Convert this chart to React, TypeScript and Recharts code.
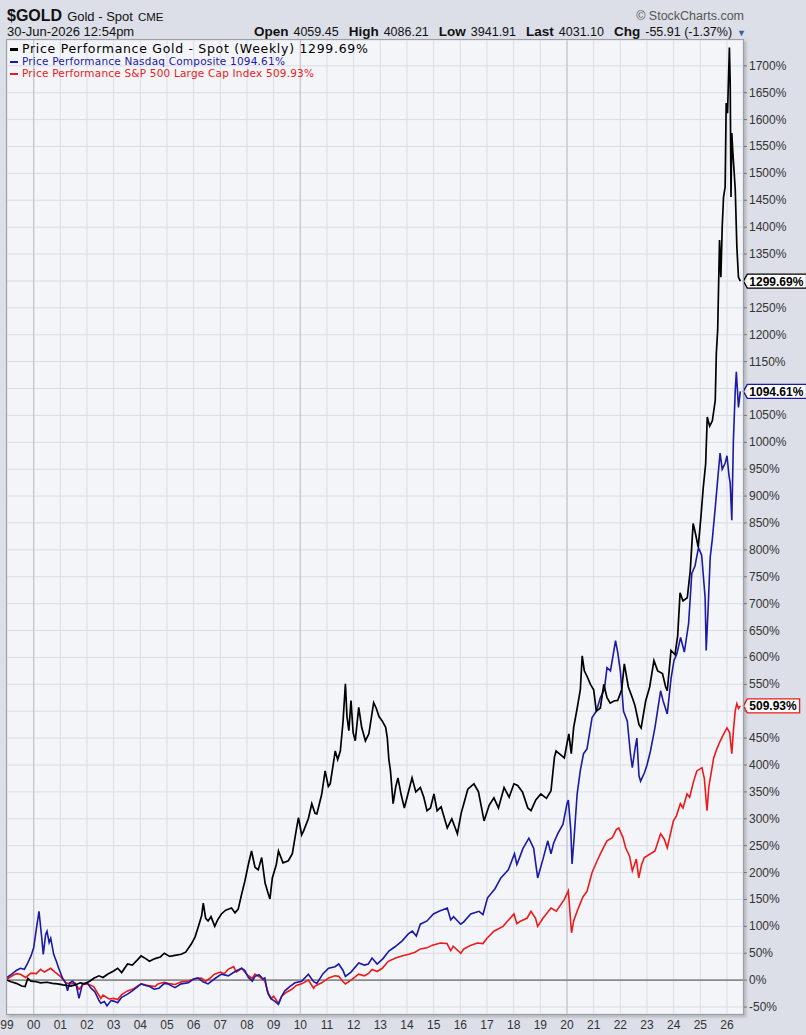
import React from "react";
import {
  LineChart, Line, XAxis, YAxis, CartesianGrid, ReferenceLine, ReferenceDot,
} from "recharts";

// [decimal year, % change since Jan 1999]
const GOLD: [number, number][] = [
  [1999.0, 0], [1999.15, -3], [1999.35, -6], [1999.55, -11], [1999.68, -12], [1999.78, 3], [1999.9, -2],
  [2000.1, -3], [2000.26, -5], [2000.5, -4], [2000.7, -6], [2000.9, -7], [2001.1, -9], [2001.4, -11],
  [2001.6, -8], [2001.75, -5], [2001.9, -7], [2002.1, -2], [2002.27, 4], [2002.45, 8], [2002.6, 5],
  [2002.77, 11], [2003.0, 17], [2003.15, 22], [2003.3, 14], [2003.52, 30], [2003.7, 28], [2003.9, 38],
  [2004.03, 45], [2004.2, 40], [2004.34, 35], [2004.55, 40], [2004.75, 43], [2004.9, 50], [2005.1, 44],
  [2005.3, 46], [2005.53, 48], [2005.7, 52], [2005.91, 67], [2006.05, 80], [2006.16, 97], [2006.3, 120],
  [2006.36, 143], [2006.45, 115], [2006.54, 110], [2006.65, 118], [2006.79, 100], [2006.9, 112],
  [2007.04, 123], [2007.2, 130], [2007.42, 134], [2007.55, 125], [2007.67, 132], [2007.8, 160],
  [2007.92, 184], [2008.05, 215], [2008.17, 240], [2008.3, 210], [2008.42, 205], [2008.55, 228],
  [2008.68, 180], [2008.8, 160], [2008.86, 151], [2008.95, 190], [2009.1, 215], [2009.18, 240],
  [2009.35, 218], [2009.55, 222], [2009.7, 235], [2009.85, 280], [2009.93, 302], [2010.05, 270],
  [2010.12, 277], [2010.3, 300], [2010.43, 328], [2010.55, 310], [2010.62, 309], [2010.8, 345],
  [2010.93, 389], [2011.05, 360], [2011.12, 365], [2011.31, 426], [2011.4, 410], [2011.5, 426],
  [2011.6, 480], [2011.69, 551], [2011.75, 490], [2011.82, 464], [2011.9, 520], [2011.98, 460],
  [2012.06, 445], [2012.19, 507], [2012.3, 470], [2012.44, 445], [2012.57, 458], [2012.75, 516],
  [2012.85, 505], [2012.95, 490], [2013.07, 482], [2013.2, 470], [2013.26, 451], [2013.32, 410],
  [2013.38, 389], [2013.48, 328], [2013.58, 360], [2013.66, 376], [2013.78, 345], [2013.9, 320],
  [2014.03, 345], [2014.19, 376], [2014.33, 350], [2014.5, 358], [2014.63, 340], [2014.75, 315],
  [2014.88, 320], [2015.01, 346], [2015.13, 315], [2015.28, 322], [2015.51, 283], [2015.68, 300],
  [2015.89, 272], [2016.03, 310], [2016.13, 328], [2016.28, 355], [2016.51, 365], [2016.68, 350],
  [2016.89, 296], [2017.08, 325], [2017.26, 339], [2017.43, 320], [2017.64, 358], [2017.83, 340],
  [2018.01, 365], [2018.15, 362], [2018.33, 350], [2018.53, 320], [2018.65, 315], [2018.83, 335],
  [2019.02, 346], [2019.23, 338], [2019.4, 352], [2019.53, 415], [2019.59, 426], [2019.73, 420],
  [2019.9, 413], [2020.0, 440], [2020.07, 458], [2020.16, 421], [2020.25, 470], [2020.38, 505],
  [2020.5, 540], [2020.57, 603], [2020.65, 575], [2020.75, 565], [2020.88, 550], [2021.0, 540],
  [2021.1, 500], [2021.25, 506], [2021.38, 550], [2021.5, 525], [2021.62, 515], [2021.76, 519],
  [2021.9, 520], [2022.05, 540], [2022.15, 588], [2022.3, 545], [2022.45, 525], [2022.55, 510],
  [2022.7, 475], [2022.78, 469], [2022.95, 519], [2023.1, 545], [2023.26, 594], [2023.4, 575],
  [2023.58, 570], [2023.7, 545], [2023.76, 538], [2023.9, 613], [2024.05, 605], [2024.15, 640],
  [2024.24, 720], [2024.35, 705], [2024.51, 711], [2024.62, 760], [2024.73, 849], [2024.82, 830],
  [2024.92, 805], [2025.02, 860], [2025.11, 916], [2025.2, 960], [2025.26, 1047], [2025.35, 1030],
  [2025.45, 1040], [2025.56, 1078], [2025.6, 1166], [2025.65, 1208], [2025.72, 1376], [2025.77, 1307],
  [2025.82, 1400], [2025.87, 1456], [2025.93, 1475], [2025.97, 1631], [2026.02, 1612], [2026.09, 1734],
  [2026.12, 1668], [2026.15, 1456], [2026.18, 1575], [2026.22, 1538], [2026.27, 1501], [2026.31, 1469],
  [2026.37, 1363], [2026.43, 1307], [2026.5, 1299.69],
];

const NASDAQ: [number, number][] = [
  [1999.0, 5], [1999.2, 12], [1999.35, 18], [1999.5, 22], [1999.65, 20], [1999.76, 30], [1999.9, 45],
  [2000.0, 60], [2000.1, 95], [2000.2, 128], [2000.3, 80], [2000.36, 48], [2000.45, 85], [2000.5, 91],
  [2000.58, 70], [2000.64, 78], [2000.75, 48], [2000.85, 35], [2000.94, 22], [2001.08, 4], [2001.2, -5],
  [2001.27, -20], [2001.35, -5], [2001.46, -2], [2001.6, -10], [2001.7, -34], [2001.83, -7], [2002.0, -5],
  [2002.15, -15], [2002.3, -22], [2002.45, -38], [2002.52, -43], [2002.65, -40], [2002.75, -48],
  [2002.9, -38], [2003.0, -39], [2003.15, -42], [2003.3, -32], [2003.52, -26], [2003.7, -20],
  [2003.9, -12], [2004.03, -7], [2004.2, -10], [2004.35, -12], [2004.52, -17], [2004.7, -15],
  [2004.9, -6], [2005.03, -7], [2005.3, -14], [2005.53, -7], [2005.8, -5], [2006.0, 2], [2006.16, 4],
  [2006.35, -3], [2006.54, -7], [2006.8, 3], [2007.04, 11], [2007.3, 8], [2007.55, 16], [2007.8, 22],
  [2007.92, 18], [2008.05, 5], [2008.2, -2], [2008.3, 7], [2008.45, 10], [2008.6, 2], [2008.67, 4],
  [2008.75, -18], [2008.8, -26], [2008.9, -35], [2009.04, -39], [2009.18, -45], [2009.3, -30],
  [2009.42, -20], [2009.6, -12], [2009.8, -5], [2010.05, -2], [2010.3, 11], [2010.5, -3], [2010.62, -6],
  [2010.85, 12], [2011.06, 22], [2011.3, 25], [2011.44, 30], [2011.6, 18], [2011.69, 7], [2011.9, 15],
  [2012.19, 32], [2012.4, 28], [2012.55, 30], [2012.69, 41], [2012.88, 30], [2013.1, 40], [2013.32, 54],
  [2013.55, 62], [2013.82, 73], [2014.05, 86], [2014.2, 91], [2014.35, 82], [2014.5, 104], [2014.75, 110],
  [2014.99, 123], [2015.2, 128], [2015.51, 134], [2015.64, 112], [2015.75, 118], [2016.01, 104],
  [2016.12, 108], [2016.39, 123], [2016.7, 128], [2016.85, 122], [2017.02, 153], [2017.3, 170],
  [2017.52, 190], [2017.8, 205], [2018.03, 235], [2018.12, 215], [2018.2, 225], [2018.35, 245],
  [2018.57, 264], [2018.75, 245], [2018.9, 190], [2019.1, 225], [2019.28, 259], [2019.4, 235],
  [2019.5, 255], [2019.65, 272], [2019.85, 290], [2020.0, 328], [2020.05, 335], [2020.14, 280],
  [2020.19, 216], [2020.26, 260], [2020.38, 346], [2020.5, 390], [2020.62, 421], [2020.75, 430],
  [2020.94, 488], [2021.1, 500], [2021.25, 525], [2021.4, 540], [2021.5, 581], [2021.63, 575],
  [2021.82, 631], [2021.9, 610], [2022.0, 575], [2022.12, 500], [2022.26, 482], [2022.38, 420],
  [2022.45, 395], [2022.55, 430], [2022.62, 450], [2022.7, 380], [2022.76, 370], [2022.9, 385],
  [2023.0, 400], [2023.13, 426], [2023.3, 470], [2023.51, 538], [2023.6, 520], [2023.76, 495],
  [2023.9, 560], [2024.01, 594], [2024.12, 607], [2024.26, 637], [2024.4, 610], [2024.56, 663],
  [2024.68, 756], [2024.8, 770], [2024.93, 804], [2025.05, 790], [2025.18, 711], [2025.22, 613],
  [2025.3, 700], [2025.37, 786], [2025.45, 820], [2025.56, 879], [2025.65, 930], [2025.74, 980],
  [2025.82, 950], [2025.93, 961], [2026.0, 975], [2026.07, 940], [2026.12, 924], [2026.18, 855],
  [2026.24, 1004], [2026.31, 1097], [2026.35, 1131], [2026.4, 1090], [2026.43, 1065], [2026.5, 1094.61],
];

const SP500: [number, number][] = [
  [1999.0, 2], [1999.2, 8], [1999.35, 12], [1999.5, 11], [1999.7, 5], [1999.9, 13], [2000.1, 12],
  [2000.26, 20], [2000.4, 15], [2000.64, 22], [2000.8, 15], [2001.0, 7], [2001.2, -5], [2001.4, -7],
  [2001.55, -5], [2001.7, -17], [2001.85, -8], [2002.02, -7], [2002.25, -12], [2002.52, -34],
  [2002.6, -28], [2002.83, -35], [2003.0, -34], [2003.15, -36], [2003.3, -27], [2003.52, -20],
  [2003.75, -16], [2004.03, -7], [2004.3, -10], [2004.55, -12], [2004.66, -7], [2004.9, -4],
  [2005.03, -6], [2005.3, -8], [2005.55, -3], [2005.79, -2], [2006.0, 2], [2006.29, 4], [2006.45, -2],
  [2006.6, 3], [2006.78, 11], [2007.0, 15], [2007.15, 12], [2007.29, 20], [2007.5, 25], [2007.6, 15],
  [2007.8, 22], [2008.0, 10], [2008.2, 3], [2008.3, 11], [2008.5, 5], [2008.67, -2], [2008.8, -25],
  [2008.92, -34], [2009.0, -30], [2009.18, -43], [2009.3, -30], [2009.5, -22], [2009.68, -17],
  [2009.85, -10], [2010.05, -7], [2010.3, 0], [2010.5, -15], [2010.55, -11], [2010.8, -5], [2011.06, 4],
  [2011.3, 8], [2011.44, 7], [2011.6, -3], [2011.69, -7], [2011.9, 0], [2012.19, 11], [2012.4, 8],
  [2012.55, 12], [2012.69, 20], [2012.88, 16], [2013.07, 22], [2013.3, 35], [2013.57, 41], [2013.8, 45],
  [2014.07, 48], [2014.3, 52], [2014.5, 58], [2014.75, 60], [2014.95, 65], [2015.26, 69], [2015.5, 68],
  [2015.64, 55], [2015.73, 63], [2016.02, 50], [2016.13, 58], [2016.4, 65], [2016.64, 69], [2016.85, 68],
  [2017.0, 78], [2017.26, 91], [2017.6, 100], [2018.01, 123], [2018.12, 105], [2018.27, 110],
  [2018.5, 115], [2018.65, 128], [2018.82, 115], [2018.9, 100], [2019.1, 115], [2019.4, 134],
  [2019.6, 128], [2019.9, 150], [2020.05, 166], [2020.17, 88], [2020.25, 110], [2020.38, 128],
  [2020.6, 155], [2020.75, 165], [2020.94, 200], [2021.13, 222], [2021.3, 240], [2021.5, 259],
  [2021.7, 265], [2021.85, 280], [2021.94, 283], [2022.1, 265], [2022.2, 246], [2022.35, 230],
  [2022.45, 203], [2022.6, 225], [2022.69, 190], [2022.8, 215], [2022.9, 228], [2023.13, 235],
  [2023.3, 240], [2023.51, 272], [2023.65, 262], [2023.76, 246], [2023.99, 296], [2024.1, 305],
  [2024.25, 328], [2024.35, 320], [2024.5, 346], [2024.6, 340], [2024.75, 370], [2024.87, 389],
  [2025.06, 395], [2025.15, 375], [2025.25, 315], [2025.32, 360], [2025.5, 413], [2025.62, 430],
  [2025.75, 445], [2025.85, 455], [2026.0, 469], [2026.1, 460], [2026.18, 421], [2026.25, 470],
  [2026.31, 501], [2026.37, 514], [2026.43, 505], [2026.5, 509.93],
];

const YEAR_TICKS = [
  1999, 2000, 2001, 2002, 2003, 2004, 2005, 2006, 2007, 2008, 2009, 2010, 2011, 2012,
  2013, 2014, 2015, 2016, 2017, 2018, 2019, 2020, 2021, 2022, 2023, 2024, 2025, 2026,
];
const DECADES = [2000, 2010, 2020];
const PCT_TICKS = [
  -50, 0, 50, 100, 150, 200, 250, 300, 350, 400, 450, 500, 550, 600, 650, 700, 750, 800, 850,
  900, 950, 1000, 1050, 1100, 1150, 1200, 1250, 1300, 1350, 1400, 1450, 1500, 1550, 1600, 1650, 1700,
];

const SERIES = [
  { name: "Price Performance Gold - Spot (Weekly)", color: "#000000", points: GOLD, big: true },
  { name: "Price Performance Nasdaq Composite", color: "#1a1aa6", points: NASDAQ, big: false },
  { name: "Price Performance S&P 500 Large Cap Index", color: "#ee1a1a", points: SP500, big: false },
];

const SANS = "'Liberation Sans', Arial, sans-serif";
const LEGEND_FONT = "'DejaVu Sans', Verdana, sans-serif";

const toRows = (pts: [number, number][]) => pts.map(([t, v]) => ({ t, v }));
const last = (pts: [number, number][]) => pts[pts.length - 1];
// the end-value tags cover the axis labels closest to them
const covered = (v: number) => SERIES.some((s) => Math.abs(last(s.points)[1] - v) < 14);

function EndTag(props: any) {
  const { cx, cy, color, text } = props;
  const tip = cx + 3;
  const left = tip + 4;
  const w = text.length * 6.9 + 4;
  return (
    <g>
      <path
        d={`M${tip},${cy} L${left},${cy - 7} H${left + w} V${cy + 7} H${left} Z`}
        fill="#ffffff"
        stroke={color}
        strokeWidth={1.3}
      />
      <text x={left + 2} y={cy + 4.5} fontSize={12} fontWeight={700} fontFamily={SANS} fill="#000">
        {text}
      </text>
    </g>
  );
}

function PctTick(props: any) {
  const { x, y, payload } = props;
  if (covered(payload.value)) return <g />;
  return (
    <text x={x + 1} y={y + 4} fontSize={12} fontFamily={SANS} fill="#333" textAnchor="start">
      {`${payload.value}%`}
    </text>
  );
}

export default function App() {
  return (
    <div style={{ position: "absolute", left: 0, top: 0, width: 806, height: 1035, background: "#dcdfe7", overflow: "hidden", fontFamily: SANS }}>
      <LineChart width={806} height={1035} margin={{ top: 40, right: 0, bottom: 0, left: 7 }}>
        <CartesianGrid stroke="#dadde4" fill="#f4f5f9" />
        <XAxis
          dataKey="t"
          type="number"
          domain={[1999, 2026.6]}
          ticks={YEAR_TICKS}
          interval={0}
          allowDataOverflow
          height={21}
          tickLine={false}
          axisLine={false}
          tickFormatter={(v: number) => String(v % 100).padStart(2, "0")}
          tick={{ fontSize: 12, fontFamily: SANS, fill: "#333" }}
          tickMargin={0}
        />
        <YAxis
          orientation="right"
          type="number"
          domain={[-63, 1748]}
          ticks={PCT_TICKS}
          interval={0}
          allowDataOverflow
          width={63}
          axisLine={false}
          tickLine={{ stroke: "#888" }}
          tickSize={4}
          tickMargin={1}
          tick={<PctTick />}
        />
        {DECADES.map((d) => (
          <ReferenceLine key={d} x={d} stroke="#c3c6ce" strokeWidth={1.2} />
        ))}
        <ReferenceLine y={0} stroke="#8c8c8c" strokeWidth={1.6} />
        <Line data={toRows(SP500)} dataKey="v" stroke={SERIES[2].color} strokeWidth={1.6} dot={false} isAnimationActive={false} />
        <Line data={toRows(NASDAQ)} dataKey="v" stroke={SERIES[1].color} strokeWidth={1.6} dot={false} isAnimationActive={false} />
        <Line data={toRows(GOLD)} dataKey="v" stroke={SERIES[0].color} strokeWidth={1.7} dot={false} isAnimationActive={false} />
        {SERIES.map((s) => {
          const [t, v] = last(s.points);
          return (
            <ReferenceDot
              key={s.name}
              x={t}
              y={v}
              r={0}
              shape={(p: any) => <EndTag cx={p.cx} cy={p.cy} color={s.color} text={`${v.toFixed(2)}%`} />}
            />
          );
        })}
      </LineChart>

      {/* plot frame */}
      <div style={{ position: "absolute", left: 6, top: 39, width: 738, height: 976, border: "1px solid #9a9fa8", boxSizing: "border-box", boxShadow: "2px 2px 3px rgba(0,0,0,0.2)", pointerEvents: "none" }} />

      {/* header */}
      <div style={{ position: "absolute", left: 7, top: 6, display: "flex", alignItems: "baseline", gap: 5, color: "#111", lineHeight: "20px" }}>
        <span style={{ fontSize: 16, fontWeight: 700 }}>$GOLD</span>
        <span style={{ fontSize: 13 }}>Gold - Spot</span>
        <span style={{ fontSize: 11.5 }}>CME</span>
      </div>
      <div style={{ position: "absolute", right: 62, top: 9, fontSize: 12.5, color: "#555", lineHeight: "14px" }}>
        © StockCharts.com
      </div>
      <div style={{ position: "absolute", left: 7, top: 25, fontSize: 13, color: "#111", lineHeight: "14px" }}>
        30-Jun-2026 12:54pm
      </div>
      <div style={{ position: "absolute", right: 60, top: 25, display: "flex", alignItems: "baseline", gap: 5, color: "#111", lineHeight: "14px", fontSize: 12.5 }}>
        <b style={{ fontSize: 13.5 }}>Open</b><span>4059.45</span>
        <b style={{ fontSize: 13.5, marginLeft: 5 }}>High</b><span>4086.21</span>
        <b style={{ fontSize: 13.5, marginLeft: 5 }}>Low</b><span>3941.91</span>
        <b style={{ fontSize: 13.5, marginLeft: 5 }}>Last</b><span>4031.10</span>
        <b style={{ fontSize: 13.5, marginLeft: 5 }}>Chg</b><span>-55.91 (-1.37%)</span>
        <span style={{ fontSize: 9, color: "#3b5aa8" }}>▼</span>
      </div>

      {/* legend */}
      <div style={{ position: "absolute", left: 10, top: 43, fontFamily: LEGEND_FONT, pointerEvents: "none" }}>
        {SERIES.map((s) => (
          <div
            key={s.name}
            style={{
              color: s.color,
              fontSize: s.big ? 12.5 : 10.5,
              letterSpacing: s.big ? 0.7 : 0.2,
              lineHeight: "12px",
              whiteSpace: "nowrap",
            }}
          >
            <span style={{ display: "inline-block", width: 8, height: 2.5, background: s.color, verticalAlign: "middle", marginRight: 4 }} />
            {`${s.name} ${last(s.points)[1].toFixed(2)}%`}
          </div>
        ))}
      </div>
    </div>
  );
}
